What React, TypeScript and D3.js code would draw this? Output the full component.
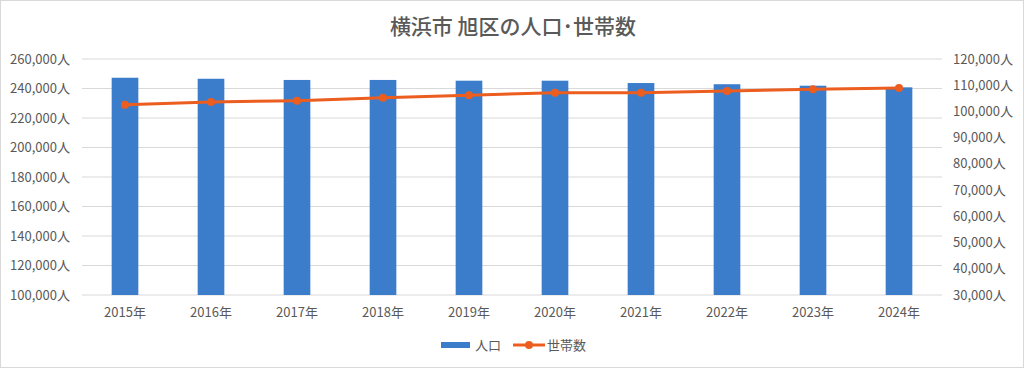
import * as d3 from "d3";
import React from "react";

const years = ["2015年", "2016年", "2017年", "2018年", "2019年", "2020年", "2021年", "2022年", "2023年", "2024年"];
const population = [247300, 246600, 245800, 245800, 245300, 245300, 243700, 242900, 241900, 240800];
const households = [102600, 103600, 104100, 105200, 106200, 107150, 107150, 107800, 108450, 108950];
const leftTicks = [100000, 120000, 140000, 160000, 180000, 200000, 220000, 240000, 260000];
const rightTicks = [30000, 40000, 50000, 60000, 70000, 80000, 90000, 100000, 110000, 120000];

const W = 1024;
const H = 368;
const margin = { top: 59, bottom: 73, left: 82, right: 82 };
const font = "'Noto Sans CJK JP', 'Noto Sans', sans-serif";
const textColor = "#595959";
const barColor = "#3C7DCB";
const lineColor = "#EC5E1F";

const App = () => {
  const x = d3.scaleBand().domain(years).range([margin.left, W - margin.right]).paddingInner(0.69).paddingOuter(0.345);
  const yL = d3.scaleLinear().domain([100000, 260000]).range([H - margin.bottom, margin.top]);
  const yR = d3.scaleLinear().domain([30000, 120000]).range([H - margin.bottom, margin.top]);
  const fmt = d3.format(",");
  const cx = (d: string) => (x(d) ?? 0) + x.bandwidth() / 2;

  const line = d3
    .line<number>()
    .x((_, i) => cx(years[i]))
    .y((d) => yR(d));

  return (
    <svg width={W} height={H} style={{ position: "absolute", left: 0, top: 0 }} fontFamily={font}>
      <rect x={0.5} y={0.5} width={W - 1} height={H - 1} fill="#fff" stroke="#d9d9d9" />
      <text x={513} y={34} textAnchor="middle" fontSize={21} fontWeight={500} fill={textColor}>
        横浜市 旭区の人口･世帯数
      </text>
      {leftTicks.map((t) => (
        <g key={t}>
          <line x1={margin.left} x2={W - margin.right} y1={yL(t)} y2={yL(t)} stroke="#d9d9d9" strokeWidth={1} />
          <text x={70} y={yL(t)} dy="0.35em" textAnchor="end" fontSize={13} fill={textColor}>
            {fmt(t)}人
          </text>
        </g>
      ))}
      {rightTicks.map((t) => (
        <text key={t} x={953} y={yR(t)} dy="0.35em" textAnchor="start" fontSize={13} fill={textColor}>
          {fmt(t)}人
        </text>
      ))}
      {years.map((yr, i) => (
        <rect key={yr} x={x(yr)} y={yL(population[i])} width={x.bandwidth()} height={yL(100000) - yL(population[i])} fill={barColor} />
      ))}
      {years.map((yr) => (
        <text key={yr} x={cx(yr)} y={317} textAnchor="middle" fontSize={13} fill={textColor}>
          {yr}
        </text>
      ))}
      <path d={line(households) ?? ""} fill="none" stroke={lineColor} strokeWidth={3} strokeLinejoin="round" />
      {households.map((h, i) => (
        <circle key={i} cx={cx(years[i])} cy={yR(h)} r={4} fill={lineColor} />
      ))}
      {/* 凡例 */}
      <rect x={441} y={342} width={29} height={6} fill={barColor} />
      <text x={475} y={345} dy="0.35em" fontSize={13} fill={textColor}>人口</text>
      <line x1={513} x2={545} y1={345} y2={345} stroke={lineColor} strokeWidth={3} />
      <circle cx={529} cy={345} r={4} fill={lineColor} />
      <text x={547} y={345} dy="0.35em" fontSize={13} fill={textColor}>世帯数</text>
    </svg>
  );
};

export default App;
